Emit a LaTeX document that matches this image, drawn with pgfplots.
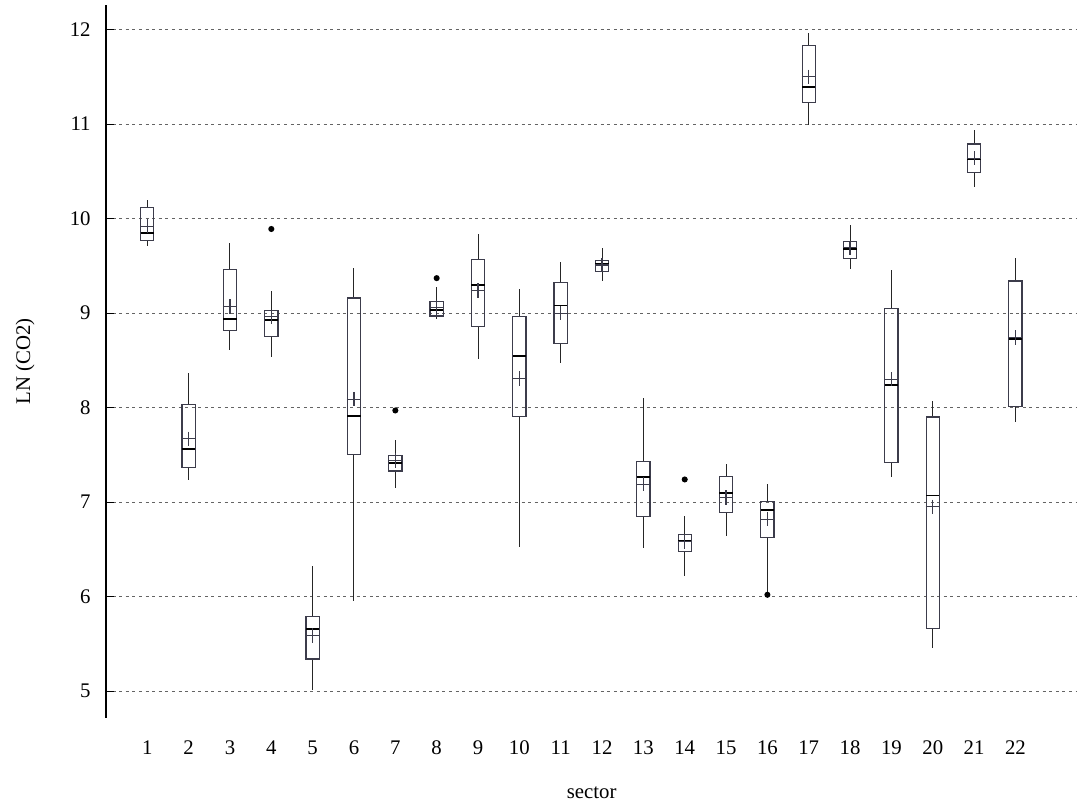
\documentclass[border=0pt]{standalone}
\usepackage{fontspec}
\setmainfont{Liberation Serif}
\usepackage{pgfplots}
\pgfplotsset{compat=1.18}
\usepgfplotslibrary{statistics}
\definecolor{meangreen}{RGB}{30,100,30}
\definecolor{gridgray}{RGB}{100,100,100}
\definecolor{boxline}{RGB}{60,60,75}
\newcommand\lblfont{\fontsize{10.4}{12.5}\selectfont}
\pgfplotsset{
  bp/.style={
    draw=boxline, line width=0.6pt, solid,
    mark=*, mark size=1.2pt, mark options={fill=black, draw=black, solid},
    boxplot/draw direction=y,
    boxplot/box extend=0.32,
    boxplot/whisker extend=0,
    boxplot/every median/.style={/tikz/line width=0.9pt, /tikz/draw=black},
    boxplot/every whisker/.style={/tikz/line width=0.5pt, /tikz/draw=black!85},
    boxplot/every average/.style={/tikz/mark=+, /tikz/mark size=3.6pt,
      /tikz/draw=meangreen, /tikz/mark options={draw=meangreen, line width=0.6pt}},
  },
}
\begin{document}
\lblfont
\begin{tikzpicture}
\begin{axis}[
  scale only axis, width=486pt, height=356.5pt,
  xmin=0, xmax=23.5, ymin=4.72, ymax=12.26,
  axis lines=left, axis line style={-, line width=0.6pt, black},
  x axis line style={draw=none},
  xtick={1,...,22}, ytick={5,...,12},
  xtick style={draw=none},
  ytick style={black, line width=0.5pt},
  tick align=inside, major tick length=4pt,
  ymajorgrids,
  major grid style={gridgray, line width=0.55pt, dash pattern=on 1.5pt off 1.8pt},
  /pgf/number format/assume math mode=true,
  every tick label/.append style={font=\lblfont},
  xticklabel style={yshift=-8pt},
  yticklabel style={xshift=-4pt},
  xlabel={sector}, ylabel={LN (CO2)},
  label style={font=\lblfont},
  xlabel style={at={(axis description cs:0.5,-0.105)}, anchor=center},
  ylabel style={at={(axis description cs:-0.0833,0.5)}, anchor=center},
  clip=false,
]
\addplot[bp, boxplot prepared={draw position=1, lower whisker=9.71, lower quartile=9.77, median=9.85, upper quartile=10.12, upper whisker=10.20, average=9.92}] coordinates {};
\addplot[bp, boxplot prepared={draw position=2, lower whisker=7.23, lower quartile=7.37, median=7.56, upper quartile=8.03, upper whisker=8.37, average=7.67}] coordinates {};
\addplot[bp, boxplot prepared={draw position=3, lower whisker=8.61, lower quartile=8.82, median=8.94, upper quartile=9.46, upper whisker=9.74, average=9.07}] coordinates {};
\addplot[bp, boxplot prepared={draw position=4, lower whisker=8.54, lower quartile=8.75, median=8.93, upper quartile=9.03, upper whisker=9.23, average=8.96}] table[row sep=\\, y index=0] {data\\ 9.89\\};
\addplot[bp, boxplot prepared={draw position=5, lower whisker=5.01, lower quartile=5.34, median=5.66, upper quartile=5.79, upper whisker=6.32, average=5.59}] coordinates {};
\addplot[bp, boxplot prepared={draw position=6, lower whisker=5.95, lower quartile=7.50, median=7.91, upper quartile=9.16, upper whisker=9.48, average=8.09}] coordinates {};
\addplot[bp, boxplot prepared={draw position=7, lower whisker=7.15, lower quartile=7.33, median=7.41, upper quartile=7.49, upper whisker=7.66, average=7.44}] table[row sep=\\, y index=0] {data\\ 7.97\\};
\addplot[bp, boxplot prepared={draw position=8, lower whisker=8.94, lower quartile=8.97, median=9.03, upper quartile=9.12, upper whisker=9.28, average=9.06}] table[row sep=\\, y index=0] {data\\ 9.37\\};
\addplot[bp, boxplot prepared={draw position=9, lower whisker=8.51, lower quartile=8.86, median=9.30, upper quartile=9.57, upper whisker=9.84, average=9.24}] coordinates {};
\addplot[bp, boxplot prepared={draw position=10, lower whisker=6.53, lower quartile=7.91, median=8.55, upper quartile=8.96, upper whisker=9.25, average=8.31}] coordinates {};
\addplot[bp, boxplot prepared={draw position=11, lower whisker=8.47, lower quartile=8.68, median=9.08, upper quartile=9.32, upper whisker=9.54, average=9.00}] coordinates {};
\addplot[bp, boxplot prepared={draw position=12, lower whisker=9.34, lower quartile=9.44, median=9.52, upper quartile=9.56, upper whisker=9.69, average=9.51}] coordinates {};
\addplot[bp, boxplot prepared={draw position=13, lower whisker=6.52, lower quartile=6.85, median=7.27, upper quartile=7.43, upper whisker=8.10, average=7.19}] coordinates {};
\addplot[bp, boxplot prepared={draw position=14, lower whisker=6.22, lower quartile=6.48, median=6.59, upper quartile=6.66, upper whisker=6.85, average=6.58}] table[row sep=\\, y index=0] {data\\ 7.24\\};
\addplot[bp, boxplot prepared={draw position=15, lower whisker=6.64, lower quartile=6.89, median=7.10, upper quartile=7.27, upper whisker=7.40, average=7.05}] coordinates {};
\addplot[bp, boxplot prepared={draw position=16, lower whisker=6.03, lower quartile=6.63, median=6.92, upper quartile=7.01, upper whisker=7.19, average=6.82}] table[row sep=\\, y index=0] {data\\ 6.02\\};
\addplot[bp, boxplot prepared={draw position=17, lower whisker=10.99, lower quartile=11.23, median=11.39, upper quartile=11.83, upper whisker=11.96, average=11.50}] coordinates {};
\addplot[bp, boxplot prepared={draw position=18, lower whisker=9.47, lower quartile=9.58, median=9.68, upper quartile=9.76, upper whisker=9.93, average=9.69}] coordinates {};
\addplot[bp, boxplot prepared={draw position=19, lower whisker=7.27, lower quartile=7.42, median=8.24, upper quartile=9.05, upper whisker=9.46, average=8.30}] coordinates {};
\addplot[bp, boxplot prepared={draw position=20, lower whisker=5.46, lower quartile=5.66, median=7.07, upper quartile=7.90, upper whisker=8.07, average=6.95}] coordinates {};
\addplot[bp, boxplot prepared={draw position=21, lower whisker=10.33, lower quartile=10.49, median=10.63, upper quartile=10.79, upper whisker=10.94, average=10.64}] coordinates {};
\addplot[bp, boxplot prepared={draw position=22, lower whisker=7.85, lower quartile=8.01, median=8.73, upper quartile=9.34, upper whisker=9.58, average=8.74}] coordinates {};
\end{axis}
\path (current axis.south west) ++(-53pt,-43pt) coordinate (bl);
\path (current axis.north east) ++(0pt,2.5pt) coordinate (tr);
\path (bl) rectangle (tr);
\end{tikzpicture}
\end{document}
